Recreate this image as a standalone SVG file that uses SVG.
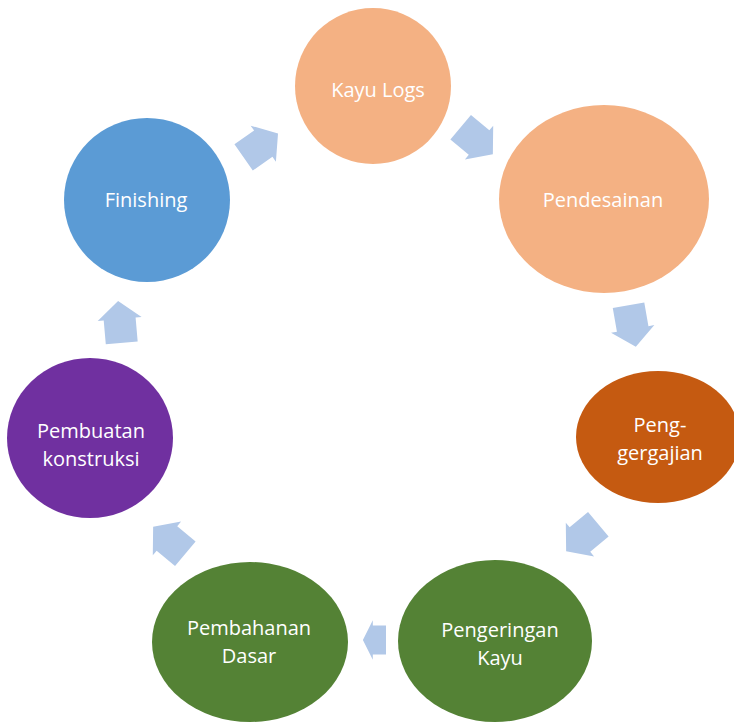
<svg xmlns="http://www.w3.org/2000/svg" width="734" height="724" viewBox="0 0 734 724">
<defs>
<style>
.lbl{font-family:"Open Sans","Liberation Sans",sans-serif;font-size:20px;fill:#ffffff;text-anchor:middle}
.arr{fill:#b1c8e8}
.orange{fill:#f4b183}
.rust{fill:#c55a11}
.green{fill:#548235}
.purple{fill:#7030a0}
.blue{fill:#5b9bd5}
</style>
<path id="ar" d="M-20,-16 H4 V-22 L22,0 L4,22 V16 H-20 Z"/>
</defs>
<rect width="734" height="724" fill="#ffffff"/>
<g id="connectors">
<use href="#ar" class="arr" transform="translate(260,146) rotate(-35)"/>
<use href="#ar" class="arr" transform="translate(476,140) rotate(40)"/>
<use href="#ar" class="arr" transform="translate(632,325) rotate(80)"/>
<use href="#ar" class="arr" transform="translate(583,537) rotate(140)"/>
<use href="#ar" class="arr" transform="translate(375,640) rotate(180) scale(0.55,0.9)"/>
<use href="#ar" class="arr" transform="translate(170,541) rotate(-140)"/>
<use href="#ar" class="arr" transform="translate(120,323) rotate(-95)"/>
</g>
<g id="kayu-logs">
<circle class="orange" cx="373" cy="86" r="78"/>
<text class="lbl" x="378" y="97">Kayu Logs</text>
</g>
<g id="pendesainan">
<ellipse class="orange" cx="604" cy="199" rx="105" ry="94"/>
<text class="lbl" x="603" y="207">Pendesainan</text>
</g>
<g id="peng-gergajian">
<ellipse class="rust" cx="658" cy="437" rx="82" ry="66"/>
<text class="lbl" x="660" y="432">Peng-</text>
<text class="lbl" x="660" y="460">gergajian</text>
</g>
<g id="pengeringan-kayu">
<ellipse class="green" cx="495" cy="641" rx="97" ry="81"/>
<text class="lbl" x="500" y="637">Pengeringan</text>
<text class="lbl" x="500" y="665">Kayu</text>
</g>
<g id="pembahanan-dasar">
<ellipse class="green" cx="250" cy="642" rx="98" ry="80"/>
<text class="lbl" x="249" y="635">Pembahanan</text>
<text class="lbl" x="249" y="663">Dasar</text>
</g>
<g id="pembuatan-konstruksi">
<ellipse class="purple" cx="90" cy="438" rx="83" ry="80"/>
<text class="lbl" x="91" y="438">Pembuatan</text>
<text class="lbl" x="91" y="466">konstruksi</text>
</g>
<g id="finishing">
<ellipse class="blue" cx="147" cy="200" rx="83" ry="82"/>
<text class="lbl" x="146" y="207">Finishing</text>
</g>
</svg>
